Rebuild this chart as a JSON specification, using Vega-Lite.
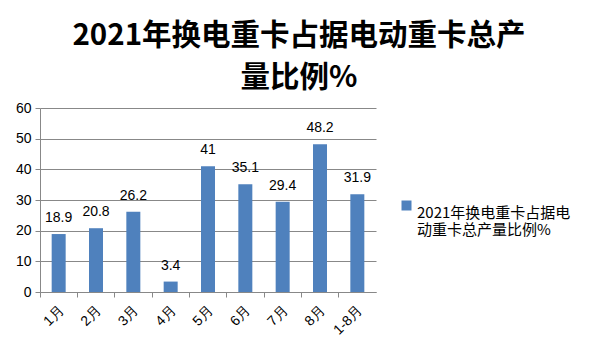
{
  "$schema": "https://vega.github.io/schema/vega-lite/v6.json",
  "autosize": "none",
  "width": 336,
  "height": 184,
  "padding": {"left": 40, "top": 108, "right": 224, "bottom": 68},
  "background": "white",
  "title": {
    "text": ["2021年换电重卡占据电动重卡总产", "量比例%"],
    "anchor": "middle",
    "frame": "group",
    "dx": 91,
    "offset": 8,
    "font": "Noto Sans CJK SC",
    "fontSize": 29.5,
    "fontWeight": "bold",
    "color": "black",
    "lineHeight": 42
  },
  "data": {
    "values": [
      {"month": "1月", "value": 18.9, "series": "s"},
      {"month": "2月", "value": 20.8, "series": "s"},
      {"month": "3月", "value": 26.2, "series": "s"},
      {"month": "4月", "value": 3.4, "series": "s"},
      {"month": "5月", "value": 41, "series": "s"},
      {"month": "6月", "value": 35.1, "series": "s"},
      {"month": "7月", "value": 29.4, "series": "s"},
      {"month": "8月", "value": 48.2, "series": "s"},
      {"month": "1-8月", "value": 31.9, "series": "s"}
    ]
  },
  "encoding": {
    "x": {
      "field": "month",
      "type": "nominal",
      "sort": null,
      "scale": {"paddingInner": 0, "paddingOuter": 0},
      "axis": {
        "title": null,
        "labelAngle": -45,
        "labelFont": "Liberation Sans",
        "labelFontSize": 14,
        "labelColor": "black",
        "labelPadding": 6,
        "labelOffset": -2,
        "labelBound": false,
        "labelOverlap": false,
        "bandPosition": 0,
        "tickColor": "#888888",
        "tickSize": 5,
        "domainColor": "#888888",
        "grid": false
      }
    },
    "y": {
      "field": "value",
      "type": "quantitative",
      "scale": {"domain": [0, 60]},
      "axis": {
        "title": null,
        "values": [0, 10, 20, 30, 40, 50, 60],
        "labelFont": "Liberation Sans",
        "labelFontSize": 14,
        "labelColor": "black",
        "labelPadding": 4,
        "tickColor": "#888888",
        "tickSize": 5,
        "domainColor": "#888888",
        "gridColor": "#888888",
        "gridWidth": 1
      }
    }
  },
  "layer": [
    {
      "mark": {"type": "bar", "width": 14, "color": "#4F81BD"},
      "encoding": {
        "color": {
          "field": "series",
          "type": "nominal",
          "scale": {"range": ["#4F81BD"]},
          "legend": {
            "orient": "none",
            "legendX": 359,
            "legendY": 90,
            "title": null,
            "symbolType": "square",
            "symbolSize": 100,
            "symbolStrokeWidth": 0,
            "labelExpr": "['2021年换电重卡占据电', '动重卡总产量比例%']",
            "labelFont": "Noto Sans CJK SC",
            "labelFontSize": 15,
            "labelLineHeight": 20,
            "labelColor": "black",
            "labelLimit": 300,
            "labelBaseline": "top",
            "labelOffset": 3
          }
        }
      }
    },
    {
      "mark": {"type": "text", "dy": -16, "font": "Liberation Sans", "fontSize": 14, "color": "black"},
      "encoding": {
        "text": {"field": "value", "type": "quantitative"}
      }
    }
  ],
  "config": {"view": {"stroke": null}}
}
